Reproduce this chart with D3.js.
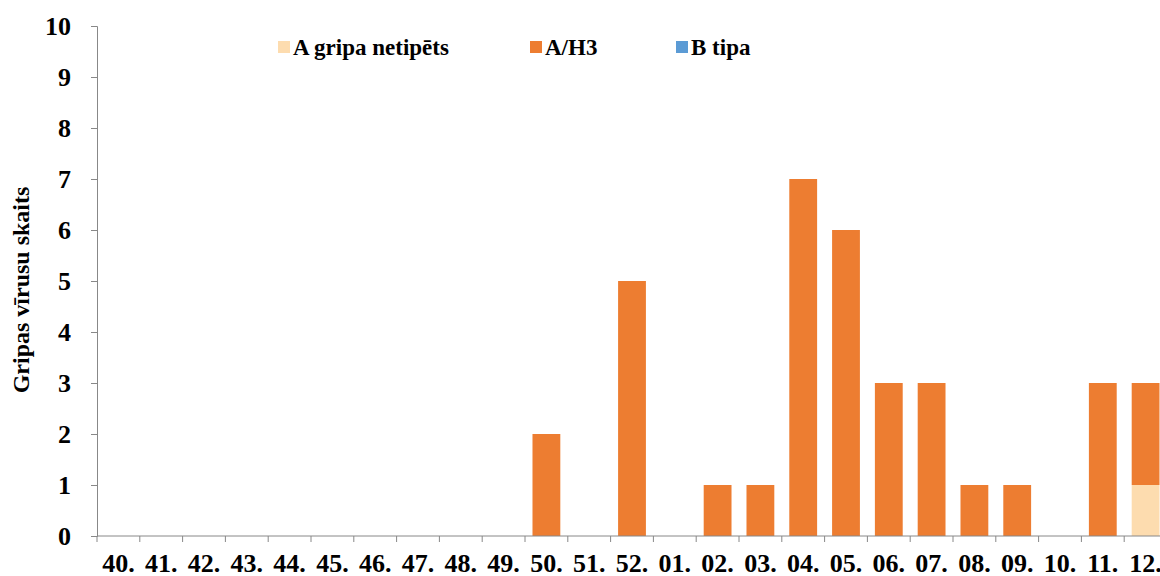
<!DOCTYPE html>
<html><head><meta charset="utf-8">
<script src="https://cdn.jsdelivr.net/npm/d3@7"></script>
<style>body{margin:0;background:#fff;} svg text{font-family:'Liberation Serif','Times New Roman',Times,'DejaVu Serif',serif !important;font-weight:bold;}</style>
</head><body><svg id="c" width="1160" height="576"></svg>
<script>
var weeks = ["40.","41.","42.","43.","44.","45.","46.","47.","48.","49.","50.","51.","52.","01.","02.","03.","04.","05.","06.","07.","08.","09.","10.","11.","12."];
var aNetipets = [0,0,0,0,0,0,0,0,0,0,0,0,0,0,0,0,0,0,0,0,0,0,0,0,1];
var aH3 =       [0,0,0,0,0,0,0,0,0,0,2,0,5,0,1,1,7,6,3,3,1,1,0,3,2];
var bTipa =     [0,0,0,0,0,0,0,0,0,0,0,0,0,0,0,0,0,0,0,0,0,0,0,0,0];
var seriesNames = ["A gripa netipēts","A/H3","B tipa"];
var colors = ["#fddcaf","#ed7d31","#5b9bd5"];
var yTicks = [0,1,2,3,4,5,6,7,8,9,10];

var svg = d3.select("#c");
var x = d3.scaleBand().domain(weeks).range([97, 1167]).paddingInner(0.35).paddingOuter(0.175);
var y = d3.scaleLinear().domain([0,10]).range([536, 26]);

var table = weeks.map(function(w,i){ return {w:w, a:aNetipets[i], h:aH3[i], b:bTipa[i]}; });
var stack = d3.stack().keys(["a","h","b"])(table);

svg.selectAll("g.s").data(stack).enter().append("g")
  .attr("fill", function(d,i){ return colors[i]; })
  .selectAll("rect").data(function(d){ return d; }).enter().append("rect")
  .attr("x", function(d){ return x(d.data.w); })
  .attr("width", x.bandwidth())
  .attr("y", function(d){ return y(d[1]); })
  .attr("height", function(d){ return y(d[0]) - y(d[1]); });

// y axis
var ya = svg.append("g").attr("transform","translate(97,0)")
  .call(d3.axisLeft(y).tickValues(yTicks).tickSize(6).tickPadding(20));
ya.select(".domain").attr("stroke","#888");
ya.selectAll(".tick line").attr("stroke","#888");
ya.selectAll("text").attr("font-size",26).attr("fill","#000");

// x axis
var xa = svg.append("g").attr("transform","translate(0,536)");
xa.append("line").attr("x1",97).attr("x2",1167).attr("stroke","#888");
var step = x.step();
xa.selectAll("line.t").data(weeks).enter().append("line")
  .attr("x1", function(d){ return x(d) - x.paddingOuter()*step; })
  .attr("x2", function(d){ return x(d) - x.paddingOuter()*step; })
  .attr("y1",0).attr("y2",6).attr("stroke","#888");
xa.selectAll("text").data(weeks).enter().append("text")
  .attr("x", function(d){ return x(d) + x.bandwidth()/2; })
  .attr("y", 36).attr("text-anchor","middle").attr("font-size",26).text(function(d){ return d; });

svg.append("text").attr("transform","translate(29,290) rotate(-90)")
  .attr("text-anchor","middle").attr("font-size",24).text("Gripas vīrusu skaits");

// legend
var lx = [284, 536, 682];
var lg = svg.selectAll("g.l").data(seriesNames).enter().append("g")
  .attr("transform", function(d,i){ return "translate(" + lx[i] + ",47)"; });
lg.append("rect").attr("x",-6).attr("y",-6).attr("width",12).attr("height",12).attr("fill", function(d,i){ return colors[i]; });
lg.append("text").attr("x",9).attr("y",8).attr("font-size",23).text(function(d){ return d; });
</script></body></html>
